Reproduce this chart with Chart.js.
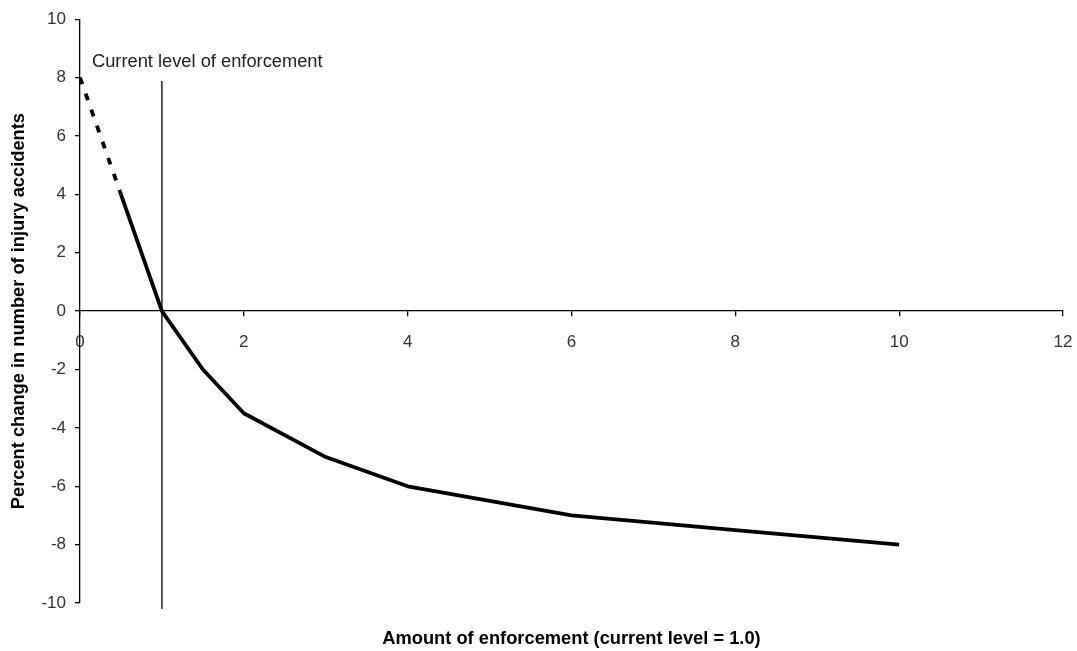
<!DOCTYPE html>
<html><head><meta charset="utf-8">
<script src="https://cdn.jsdelivr.net/npm/chart.js@4"></script>
<style>html,body{margin:0;padding:0;background:#fff}#wrap{width:1077px;height:651px}</style>
</head><body><div id="wrap"><canvas id="c"></canvas></div>
<script>
// ---- data ----
const dashedX = [0, 0.5];
const dashedY = [8, 4];
const solidX = [0.5, 1, 1.5, 2, 3, 4, 6, 8, 10];
const solidY = [4, 0, -2, -3.5, -5, -6, -7, -7.5, -8];
const currentLevelX = [1, 1];
const currentLevelY = [7.88, -10.2];
const annotationText = "Current level of enforcement";
const annotationPos = [0.146, 8.53];
const xTitle = "Amount of enforcement (current level = 1.0)";
const yTitle = "Percent change in number of injury accidents";
const xRange = [0, 12];
const yRange = [-10, 10];
const tickStep = 2;

const pts = (xs, ys) => xs.map((x, i) => ({x, y: ys[i]}));
const FONT = "'Liberation Sans', Arial, sans-serif";

const annotationPlugin = {
  id: 'annot',
  afterDatasetsDraw(chart) {
    const {ctx, scales} = chart;
    ctx.save();
    ctx.font = `18.3px ${FONT}`;
    ctx.fillStyle = '#222';
    ctx.textBaseline = 'middle';
    ctx.textAlign = 'left';
    ctx.fillText(annotationText, scales.x.getPixelForValue(annotationPos[0]), scales.y.getPixelForValue(annotationPos[1]));
    ctx.restore();
  }
};

const noPad = s => { s.paddingLeft = 0; s.paddingRight = 0; };

new Chart(document.getElementById('c'), {
  type: 'line',
  data: {
    datasets: [
      {data: pts(dashedX, dashedY), borderColor: '#000', borderWidth: 3.8, borderDash: [7, 10], pointRadius: 0, tension: 0},
      {data: pts(solidX, solidY), borderColor: '#000', borderWidth: 3.8, pointRadius: 0, tension: 0, borderJoinStyle: 'round'},
      {data: pts(currentLevelX, currentLevelY), borderColor: '#000', borderWidth: 1.3, pointRadius: 0, clip: false}
    ]
  },
  options: {
    responsive: true, maintainAspectRatio: false, animation: false,
    layout: {padding: {left: 0, right: 14, top: 18, bottom: 0}},
    plugins: {legend: {display: false}, tooltip: {enabled: false}},
    scales: {
      x: {
        type: 'linear', min: xRange[0], max: xRange[1], position: {y: 0},
        afterFit: noPad,
        ticks: {stepSize: tickStep, color: '#333', font: {family: FONT, size: 17}, padding: 15.5, maxRotation: 0},
        grid: {drawOnChartArea: false, tickLength: 5, color: '#000', lineWidth: 1.3},
        border: {color: '#000', width: 1.3}
      },
      xb: {
        type: 'linear', axis: 'x', min: xRange[0], max: xRange[1], position: 'bottom',
        afterFit: noPad,
        ticks: {display: false}, grid: {display: false, drawTicks: false}, border: {display: false},
        title: {display: true, text: xTitle, color: '#000', font: {family: FONT, size: 18.3, weight: 'bold'}, padding: {top: 25, bottom: 1}}
      },
      y: {
        type: 'linear', min: yRange[0], max: yRange[1], position: 'left',
        afterFit: s => { s.width = 80; },
        ticks: {stepSize: tickStep, color: '#333', font: {family: FONT, size: 17}, padding: 9},
        grid: {drawOnChartArea: false, tickLength: 5, color: '#000', lineWidth: 1.3},
        border: {color: '#000', width: 1.3},
        title: {display: true, text: yTitle, color: '#000', font: {family: FONT, size: 18.3, weight: 'bold'}, padding: {top: 8, bottom: 0}}
      }
    }
  },
  plugins: [annotationPlugin]
});
</script></body></html>
